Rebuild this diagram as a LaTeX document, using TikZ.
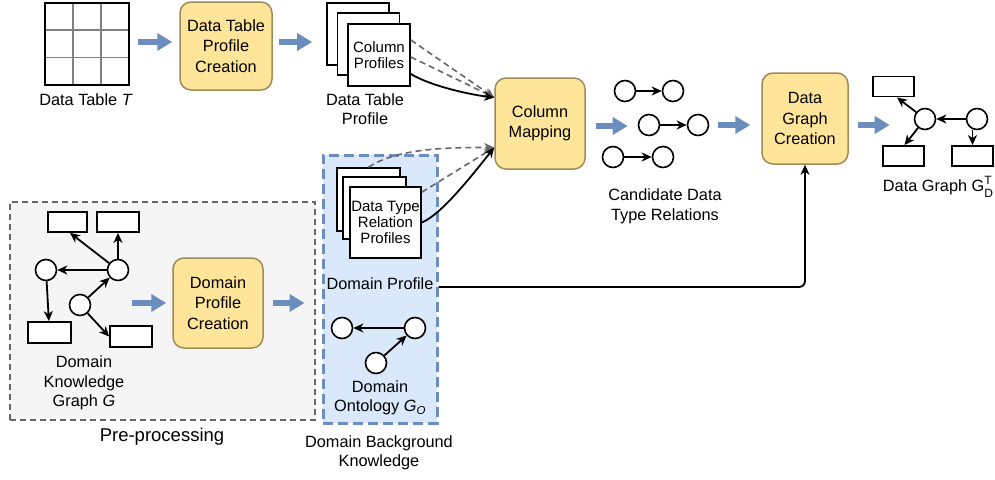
\documentclass[tikz,border=0pt]{standalone}
\usepackage{fontspec}
\setmainfont{Liberation Sans}
\usetikzlibrary{arrows.meta,calc}
\definecolor{procfill}{HTML}{FFE599}
\definecolor{procdraw}{HTML}{9E8B5C}
\definecolor{bluefill}{HTML}{DAE8FC}
\definecolor{bluedraw}{HTML}{6C8EBF}
\definecolor{grayfill}{HTML}{F5F5F5}
\definecolor{graydraw}{HTML}{666666}
\begin{document}
\begin{tikzpicture}[x=1pt,y=-1pt, font=\fontsize{16.3}{19.5}\selectfont,
  proc/.style={draw=procdraw, fill=procfill, line width=1.5pt, rounded corners=11pt, align=center, inner sep=0pt, font=\fontsize{16.3}{20.5}\selectfont},
  barrow/.style={draw=bluedraw, line width=5.5pt, -{Triangle[length=15pt,width=17pt]}},
  karrow/.style={line width=1.8pt, -{Stealth[length=10pt,width=9pt,inset=3pt]}},
  garrow/.style={draw=graydraw, line width=1.6pt, dash pattern=on 6pt off 4pt, -{Stealth[length=10pt,width=9pt,inset=3pt]}},
  page/.style={draw, fill=white, line width=1.6pt, inner sep=0pt, align=center, font=\fontsize{15}{16}\selectfont},
  circ/.style={circle, draw, fill=white, line width=1.6pt, minimum size=21pt, inner sep=0pt},
  rbox/.style={draw, fill=white, line width=1.8pt, minimum width=41pt, minimum height=20pt, inner sep=0pt},
  lbl/.style={align=center, inner sep=0pt}]
\path[use as bounding box, fill=white] (0,0) rectangle (995,479);

% containers
\node[draw=graydraw, fill=grayfill, dash pattern=on 6pt off 4pt, line width=1.6pt, minimum width=305pt, minimum height=218pt, inner sep=0pt] (pre) at (162.5,311) {};
\node[lbl, font=\fontsize{18.5}{22}\selectfont] (preL) at (162,437) {Pre-processing};
\node[draw=bluedraw, fill=bluefill, dash pattern=on 10pt off 5pt, line width=3pt, minimum width=114pt, minimum height=268pt, inner sep=0pt] (dbk) at (380,289) {};
\node[lbl] (dbkL) at (379,453) {Domain Background\\Knowledge};

% data table
\node[minimum width=84pt, minimum height=82pt, inner sep=0pt] (tbl) at (87,44) {};
\draw[gray, line width=1.8pt] ($(tbl.north west)+(28,0)$) -- ($(tbl.south west)+(28,0)$)
  ($(tbl.north west)+(56,0)$) -- ($(tbl.south west)+(56,0)$)
  ($(tbl.north west)+(0,27.3)$) -- ($(tbl.north east)+(0,27.3)$)
  ($(tbl.north west)+(0,54.7)$) -- ($(tbl.north east)+(0,54.7)$);
\draw[line width=2.5pt] (tbl.north west) rectangle (tbl.south east);
\node[lbl] (tblL) at (86,100) {Data Table \textit{T}};

\node[proc, minimum width=92pt, minimum height=88pt] (b1) at (226,46) {Data Table\\Profile\\Creation};

% column profiles
\node[page, minimum width=62pt, minimum height=62pt] (cp1) at (358,34) {};
\node[page, minimum width=62pt, minimum height=62pt] (cp2) at (368.5,44) {};
\node[page, minimum width=62pt, minimum height=62pt] (cp3) at (379,55) {Column\\Profiles};
\node[lbl] (cpL) at (365,109) {Data Table\\Profile};

\node[proc, minimum width=90pt, minimum height=91pt] (cm) at (540,123.5) {Column\\Mapping};

% domain profile pages
\node[page, minimum width=63pt, minimum height=63pt] (dp1) at (368.5,199.5) {};
\node[page, minimum width=63pt, minimum height=62pt] (dp2) at (374.5,208) {};
\node[page, minimum width=71pt, minimum height=71pt] (dp3) at (385.5,222.5) {Data Type\\Relation\\Profiles};
\node[lbl] (dpL) at (380,284) {Domain Profile};

% domain ontology
\node[circ] (o1) at (342,328) {};
\node[circ] (o2) at (415,328) {};
\node[circ] (o3) at (376,363) {};
\draw[karrow] (o2) -- (o1);
\draw[karrow] (o3) -- (o2);
\node[lbl] (oL) at (380,398) {Domain\\Ontology \textit{G}\textsubscript{\textit{O}}};

% domain knowledge graph
\node[rbox, minimum width=39pt] (kA) at (67.5,222) {};
\node[rbox, minimum width=42pt] (kB) at (118,222) {};
\node[circ] (kC1) at (46,270) {};
\node[circ] (kC2) at (118,270) {};
\node[circ] (kC3) at (80,305) {};
\node[rbox, minimum width=43pt, minimum height=21pt] (kD) at (49.5,332.5) {};
\node[rbox, minimum width=42pt, minimum height=21pt] (kE) at (131,336.5) {};
\draw[karrow] (kC2) -- ($(kA.south)+(2.5,0)$);
\draw[karrow] (kC2) -- (kB);
\draw[karrow] (kC2) -- (kC1);
\draw[karrow] (kC1) -- (kD);
\draw[karrow] (kC3) -- (kC2);
\draw[karrow] (kC3) -- (kE.west);
\node[lbl] (kL) at (84,383) {Domain\\Knowledge\\Graph \textit{G}};

\node[proc, minimum width=90pt, minimum height=90pt] (dpc) at (218,303) {Domain\\Profile\\Creation};

% candidate relations
\node[circ] (r1a) at (625,91) {};
\node[circ] (r1b) at (673,91) {};
\node[circ] (r2a) at (649,125) {};
\node[circ] (r2b) at (698,125) {};
\node[circ] (r3a) at (613,157) {};
\node[circ] (r3b) at (663,157) {};
\draw[karrow] (r1a) -- (r1b);
\draw[karrow] (r2a) -- (r2b);
\draw[karrow] (r3a) -- (r3b);
\node[lbl] (rL) at (665,206.5) {Candidate Data\\Type Relations};

\node[proc, minimum width=86pt, minimum height=91pt] (dgc) at (805,118.5) {Data\\Graph\\Creation};

% data graph
\node[rbox] (gr1) at (893.5,86.5) {};
\node[circ] (gc1) at (925,119) {};
\node[circ] (gc2) at (977,119) {};
\node[rbox] (gr2) at (903.5,156) {};
\node[rbox] (gr3) at (972.5,156) {};
\draw[karrow] (gc1) -- ($(gr1.south)+(3.5,0)$);
\draw[karrow] (gc1) -- ($(gr2.north)+(1,0)$);
\draw[karrow] (gc2) -- (gc1);
\draw[karrow] (gc2.south -| gr3.north) -- (gr3.north);
\node[lbl] (gL) at (938,187) {Data Graph G\rlap{\raisebox{0.85ex}{\fontsize{12}{12}\selectfont T}}\raisebox{-0.7ex}{\fontsize{12}{12}\selectfont D}};

% blue flow arrows
\draw[barrow] ($(tbl.east)+(9,-2)$) -- ($(b1.west)+(-7,-4)$);
\draw[barrow] ($(b1.east)+(6,-4)$) -- ($(cp1.west |- b1.east)+(-14,-4)$);
\draw[barrow] ($(cm.east)+(10,2.5)$) -- ($(r2a.west |- cm.east)+(-10,2.5)$);
\draw[barrow] ($(r2b.east)+(9,0)$) -- ($(dgc.west |- r2b.east)+(-11,0)$);
\draw[barrow] ($(dgc.east |- r2b.east)+(9,0)$) -- ($(gc1.west |- r2b.east)+(-24,0)$);
\draw[barrow] ($(dpc.west)+(-40,0)$) -- ($(dpc.west)+(-6,0)$);
\draw[barrow] ($(dpc.east)+(9,0)$) -- ($(dbk.west |- dpc.east)+(-17,0)$);

% mapping inputs
\draw[garrow] ($(cp3.east)+(0,-15)$) -- ($(cm.west)+(0,-26)$);
\draw[garrow] ($(cp3.east)+(0,2)$) -- ($(cm.west)+(0,-26)$);
\draw[karrow] ($(cp3.east)+(0,19)$) .. controls +(20,12) and +(-25,-3) .. ($(cm.west)+(0,-26)$);
\draw[garrow] (dp1.north) .. controls +(30,-20) and +(-40,0) .. ($(cm.west)+(0,24)$);
\draw[garrow] ($(dp3.north east)+(0,6)$) -- ($(cm.west)+(0,24)$);
\draw[karrow] (dp3.east) .. controls +(20,-8) and +(-20,25) .. ($(cm.west)+(0,24)$);

% domain profile to data graph creation
\draw[karrow, rounded corners=6pt] ($(dbk.east |- dpL.east)+(0,3)$) -| (dgc.south);
\end{tikzpicture}
\end{document}
